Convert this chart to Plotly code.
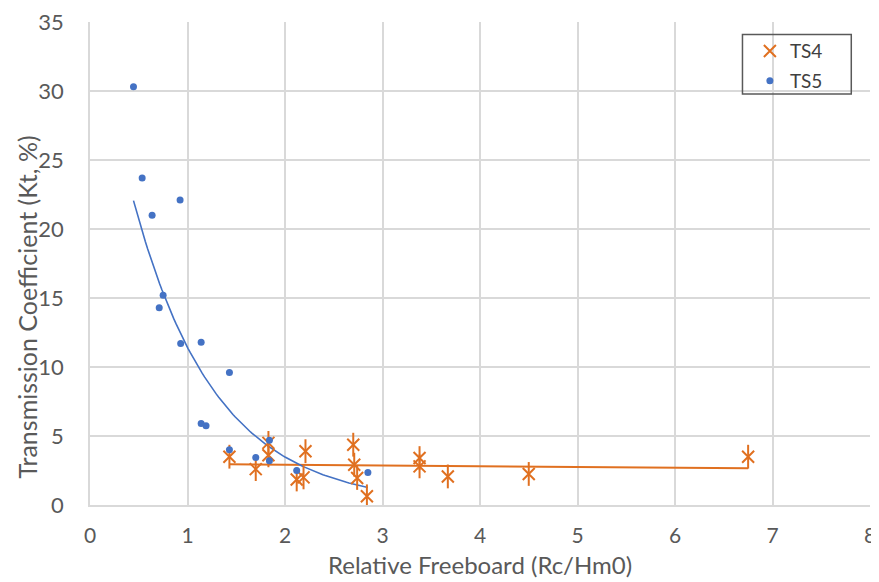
import numpy as np
import plotly.graph_objects as go

# TS4 data (asterisks)
ts4_x = [1.43, 1.70, 1.83, 1.83, 2.21, 2.12, 2.19, 2.70, 2.71, 2.74, 2.84, 3.38, 3.38, 3.67, 4.50, 6.75]
ts4_y = [3.5, 2.6, 4.5, 3.6, 3.9, 1.85, 2.0, 4.37, 2.92, 1.96, 0.63, 3.4, 2.8, 2.07, 2.25, 3.5]

# TS5 data (dots)
ts5_x = [0.446, 0.535, 0.637, 0.924, 0.71, 0.75, 0.93, 1.14, 1.43, 1.14, 1.19, 1.43, 1.70, 1.84, 1.84, 2.12, 2.85]
ts5_y = [30.3, 23.7, 21.0, 22.1, 14.3, 15.2, 11.7, 11.8, 9.6, 5.9, 5.75, 4.0, 3.45, 4.7, 3.2, 2.5, 2.35]

X_TITLE = "Relative Freeboard (Rc/Hm0)"
Y_TITLE = "Transmission Coefficient (Kt, %)"

ORANGE = "#E07020"
BLUE = "#4472C4"
GREY = "#595959"
FONT = "Lato, Open Sans, sans-serif"

# trendlines fitted from data (linear for TS4, exponential for TS5)
p4 = np.polyfit(ts4_x, ts4_y, 1)
t4x = np.linspace(min(ts4_x), max(ts4_x), 50)
t4y = np.polyval(p4, t4x)

p5 = np.polyfit(ts5_x, np.log(ts5_y), 1)
t5x = np.linspace(min(ts5_x), max(ts5_x), 100)
t5y = np.exp(np.polyval(p5, t5x))

fig = go.Figure()
fig.add_trace(go.Scatter(x=t4x, y=t4y, mode="lines", line=dict(color=ORANGE, width=2),
                         showlegend=False, hoverinfo="skip"))
fig.add_trace(go.Scatter(x=t5x, y=t5y, mode="lines", line=dict(color=BLUE, width=1.6),
                         showlegend=False, hoverinfo="skip"))
fig.add_trace(go.Scatter(x=ts4_x, y=ts4_y, mode="markers", name="TS4", legendgroup="a",
                         marker=dict(symbol="x-thin-open", size=12, color=ORANGE,
                                     line=dict(color=ORANGE, width=2))))
fig.add_trace(go.Scatter(x=ts4_x, y=ts4_y, mode="markers", showlegend=False, legendgroup="a",
                         marker=dict(symbol="line-ns-open", size=17, color=ORANGE,
                                     line=dict(color=ORANGE, width=2))))
fig.add_trace(go.Scatter(x=ts5_x, y=ts5_y, mode="markers", name="TS5", legendgroup="b",
                         marker=dict(symbol="circle", size=7, color=BLUE)))

# legend frame
fig.add_shape(type="rect", xref="paper", yref="paper", x0=0.8365, x1=0.976, y0=0.851, y1=0.974,
              line=dict(color=GREY, width=1.5), fillcolor="rgba(0,0,0,0)", layer="above")

# axis titles
fig.add_annotation(text=X_TITLE, xref="paper", yref="paper", x=0.5, y=-0.1236,
                   xanchor="center", yanchor="middle", showarrow=False,
                   font=dict(family=FONT, size=24, color=GREY))
fig.add_annotation(text=Y_TITLE, xref="paper", yref="paper", x=-0.0814, y=0.41,
                   xanchor="center", yanchor="middle", showarrow=False, textangle=-90,
                   font=dict(family=FONT, size=25, color=GREY))

fig.update_layout(
    width=871, height=574,
    margin=dict(l=82, r=9, t=14, b=77),
    paper_bgcolor="white", plot_bgcolor="white",
    font=dict(family=FONT, size=22, color=GREY),
    legend=dict(x=0.846, y=0.979, xanchor="left", yanchor="top",
                bgcolor="rgba(0,0,0,0)", borderwidth=0, itemwidth=30,
                font=dict(family=FONT, size=19, color="#404040"),
                tracegroupgap=2),
    xaxis=dict(range=[0, 8], dtick=1, showgrid=True, gridcolor="#D9D9D9", gridwidth=1.5,
               zeroline=False, showline=True, linecolor="#D9D9D9", linewidth=1.5,
               ticks="", automargin=False, ticklabelstandoff=11, ticklabeloverflow="allow",
               tickfont=dict(size=21)),
    yaxis=dict(range=[0, 35], dtick=5, showgrid=True, gridcolor="#D9D9D9", gridwidth=1.5,
               zeroline=False, showline=True, linecolor="#D9D9D9", linewidth=1.5,
               ticks="", automargin=False, ticklabelstandoff=20, ticklabeloverflow="allow",
               tickfont=dict(size=22)),
)

fig.write_html("out.html")
